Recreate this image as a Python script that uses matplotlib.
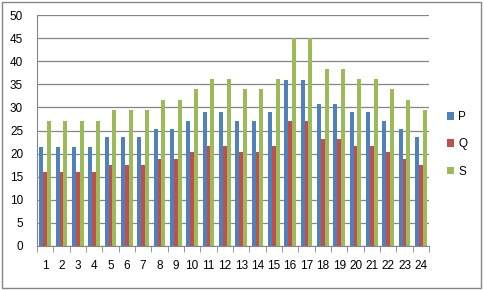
import numpy as np
import matplotlib.pyplot as plt
from matplotlib.patches import Rectangle

categories = [str(i) for i in range(1, 25)]
p_vals = [21.5, 21.5, 21.5, 21.5, 23.5, 23.5, 23.5, 25.3, 25.3, 27.0, 29.0, 29.0,
          27.0, 27.0, 29.0, 36.0, 36.0, 30.7, 30.7, 29.0, 29.0, 27.0, 25.3, 23.5]
q_vals = [16.1, 16.1, 16.1, 16.1, 17.6, 17.6, 17.6, 18.9, 18.9, 20.3, 21.6, 21.6,
          20.3, 20.3, 21.6, 27.0, 27.0, 23.1, 23.1, 21.6, 21.6, 20.3, 18.9, 17.6]
s_vals = [27.0, 27.0, 27.0, 27.0, 29.4, 29.4, 29.4, 31.6, 31.6, 33.9, 36.1, 36.1,
          33.9, 33.9, 36.1, 45.0, 45.0, 38.3, 38.3, 36.1, 36.1, 33.9, 31.6, 29.4]

plt.rcParams['font.family'] = ['Liberation Sans', 'DejaVu Sans']

fig = plt.figure(figsize=(4.84, 2.90), dpi=100)
ax = fig.add_axes([37/484, 44/290, 392/484, 231/290])

x = np.arange(len(categories))
width = 0.24
ax.bar(x - width, p_vals, width, color='#4F81BD', label='P')
ax.bar(x, q_vals, width, color='#C0504D', label='Q')
ax.bar(x + width, s_vals, width, color='#9BBB59', label='S')

ax.set_xlim(-0.5, len(categories) - 0.5)
ax.set_ylim(0, 50)
ax.set_yticks(np.arange(0, 51, 5))
ax.yaxis.grid(True, color='#868686', linewidth=0.9)
ax.set_axisbelow(True)
ax.set_xticks(x)
ax.set_xticklabels(categories)
ax.set_xticks(np.arange(-0.5, len(categories), 1), minor=True)
ax.tick_params(axis='x', which='major', length=0, pad=10, labelsize=8.5)
ax.tick_params(axis='x', which='minor', length=4, color='#868686', direction='out')
ax.tick_params(axis='y', length=0, pad=10, labelsize=8.5)
for side in ['top', 'right']:
    ax.spines[side].set_visible(False)
for side in ['left', 'bottom']:
    ax.spines[side].set_color('#868686')

ax.legend(loc='center left', bbox_to_anchor=(1.045, 0.44), frameon=False,
          handlelength=0.6, handleheight=0.6, handletextpad=0.4, borderpad=0,
          borderaxespad=0, fontsize=8.5, labelspacing=1.3)

fig.patches.append(Rectangle((0.004, 0.006), 0.99, 0.988, transform=fig.transFigure,
                             fill=False, edgecolor='#868686', linewidth=1))

plt.savefig('out.png', dpi=100)
